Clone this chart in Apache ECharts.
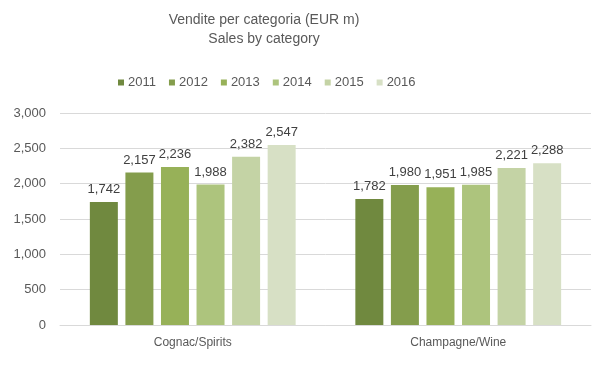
<!DOCTYPE html>
<html>
<head>
<meta charset="utf-8">
<script src="https://cdn.jsdelivr.net/npm/echarts@6/dist/echarts.min.js"></script>
<style>
  html, body { margin: 0; padding: 0; background: #fff; }
  #chart { width: 599px; height: 377px; }
</style>
</head>
<body>
<div id="chart"></div>
<script>
const categories = ['Cognac/Spirits', 'Champagne/Wine'];
const years = ['2011', '2012', '2013', '2014', '2015', '2016'];
const sales2011 = [1742, 1782];
const sales2012 = [2157, 1980];
const sales2013 = [2236, 1951];
const sales2014 = [1988, 1985];
const sales2015 = [2382, 2221];
const sales2016 = [2547, 2288];
const yTicks = [0, 500, 1000, 1500, 2000, 2500, 3000];

const colors = ['#70893f', '#849d4c', '#97b158', '#adc47d', '#c4d3a5', '#d7e0c5'];
const values = [sales2011, sales2012, sales2013, sales2014, sales2015, sales2016];
const fontFam = 'Liberation Sans, Arial, sans-serif';
const fmt = v => v.toLocaleString('en-US');

const chart = echarts.init(document.getElementById('chart'));

chart.setOption({
    animation: false,
    color: colors,
    title: {
        text: 'Vendite per categoria (EUR m)\nSales by category',
        left: 259,
        textAlign: 'center',
        top: 6,
        textStyle: {
            fontFamily: fontFam,
            fontSize: 14,
            fontWeight: 'normal',
            color: '#595959',
            lineHeight: 19
        }
    },
    legend: {
        data: years,
        top: 71,
        left: 113,
        itemWidth: 6,
        itemHeight: 6,
        itemGap: 13,
        icon: 'rect',
        textStyle: {
            fontFamily: fontFam,
            fontSize: 13,
            color: '#595959',
            padding: [0, 0, 0, -1]
        }
    },
    grid: {
        left: 60,
        right: 8,
        top: 113,
        bottom: 52
    },
    xAxis: {
        type: 'category',
        data: categories,
        axisTick: { show: false },
        axisLine: { lineStyle: { color: '#d9d9d9' } },
        axisLabel: {
            margin: 12,
            fontFamily: fontFam,
            fontSize: 12,
            color: '#595959'
        }
    },
    yAxis: {
        type: 'value',
        min: yTicks[0],
        max: yTicks[yTicks.length - 1],
        interval: 500,
        axisLine: { show: false },
        axisTick: { show: false },
        splitLine: { lineStyle: { color: '#d9d9d9' } },
        axisLabel: {
            margin: 14,
            fontFamily: fontFam,
            fontSize: 13,
            color: '#595959',
            formatter: v => fmt(v)
        }
    },
    series: years.map((y, i) => ({
        name: y,
        type: 'bar',
        data: values[i],
        barWidth: 28,
        barGap: '27%',
        itemStyle: { color: colors[i] },
        label: {
            show: true,
            position: 'top',
            distance: 6,
            fontFamily: fontFam,
            fontSize: 13,
            color: '#404040',
            formatter: p => fmt(p.value)
        }
    }))
});
</script>
</body>
</html>
